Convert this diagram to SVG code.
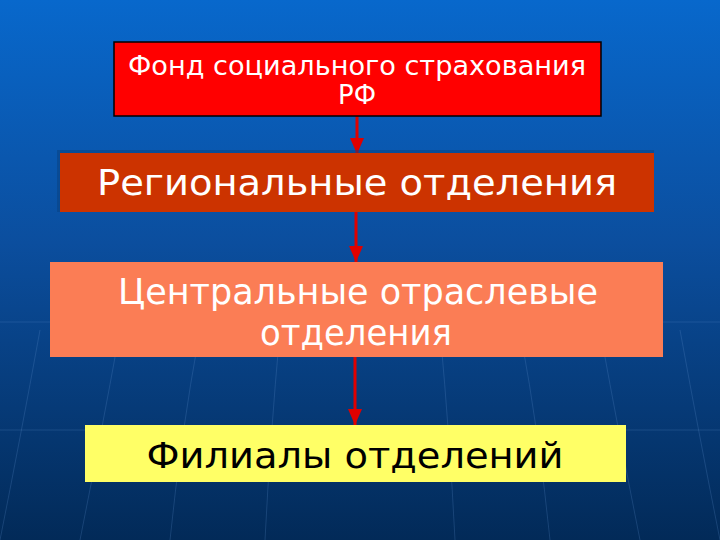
<svg xmlns="http://www.w3.org/2000/svg" width="720" height="540" viewBox="0 0 720 540">
<defs>
<linearGradient id="bg" x1="0" y1="0" x2="0" y2="1">
<stop offset="0" stop-color="#0868CC"/>
<stop offset="0.45" stop-color="#0B4E9E"/>
<stop offset="1" stop-color="#022A58"/>
</linearGradient>
<marker id="ah" markerWidth="16" markerHeight="14" refX="16" refY="7" orient="auto" markerUnits="userSpaceOnUse">
<path d="M0,0 L16,7 L0,14 Z" fill="#E00000"/>
</marker>
</defs>
<style>
.lbl{font-family:"DejaVu Sans","Liberation Sans",sans-serif;text-anchor:middle}
.w{fill:#FFFFFF}
.conn{stroke:#E00000;stroke-width:3;fill:none;marker-end:url(#ah)}
.grid{stroke:#5A8AC8;stroke-opacity:0.25;stroke-width:1;fill:none}
</style>
<rect width="720" height="540" fill="url(#bg)"/>
<g id="globe">
<path class="grid" d="M0,322 L720,322"/>
<path class="grid" d="M0,430 L720,430"/>
<path class="grid" d="M40,330 Q20,440 0,540"/>
<path class="grid" d="M120,330 Q100,440 80,540"/>
<path class="grid" d="M200,330 Q180,440 170,540"/>
<path class="grid" d="M280,330 Q270,440 265,540"/>
<path class="grid" d="M440,330 Q450,440 455,540"/>
<path class="grid" d="M520,330 Q540,440 550,540"/>
<path class="grid" d="M600,330 Q620,440 640,540"/>
<path class="grid" d="M680,330 Q700,440 720,540"/>
</g>
<g id="connectors">
<line class="conn" x1="357" y1="116" x2="357" y2="154"/>
<line class="conn" x1="356" y1="212" x2="356" y2="262"/>
<line class="conn" x1="355" y1="357" x2="355" y2="425"/>
</g>
<g id="fond">
<rect x="114" y="42" width="487" height="74" fill="#FF0000" stroke="#000000" stroke-width="1.5"/>
<text class="lbl w" x="357" y="75" font-size="27" textLength="458" lengthAdjust="spacingAndGlyphs">Фонд социального страхования</text>
<text class="lbl w" x="357" y="104" font-size="27" textLength="38" lengthAdjust="spacingAndGlyphs">РФ</text>
</g>
<g id="regional">
<rect x="57" y="150" width="597" height="62" fill="#08407E" opacity="0.5"/>
<rect x="60" y="153" width="594" height="59" fill="#CC3300"/>
<text class="lbl w" x="357" y="195" font-size="35" textLength="520" lengthAdjust="spacingAndGlyphs">Региональные отделения</text>
</g>
<g id="central">
<rect x="50" y="262" width="613" height="95" fill="#FB7D55"/>
<text class="lbl w" x="358" y="304" font-size="35" textLength="480" lengthAdjust="spacingAndGlyphs">Центральные отраслевые</text>
<text class="lbl w" x="356" y="345" font-size="35" textLength="192" lengthAdjust="spacingAndGlyphs">отделения</text>
</g>
<g id="filials">
<rect x="85" y="425" width="541" height="57" fill="#FFFF66"/>
<text class="lbl" x="355" y="468" font-size="35" fill="#000000" textLength="417" lengthAdjust="spacingAndGlyphs">Филиалы отделений</text>
</g>
</svg>
